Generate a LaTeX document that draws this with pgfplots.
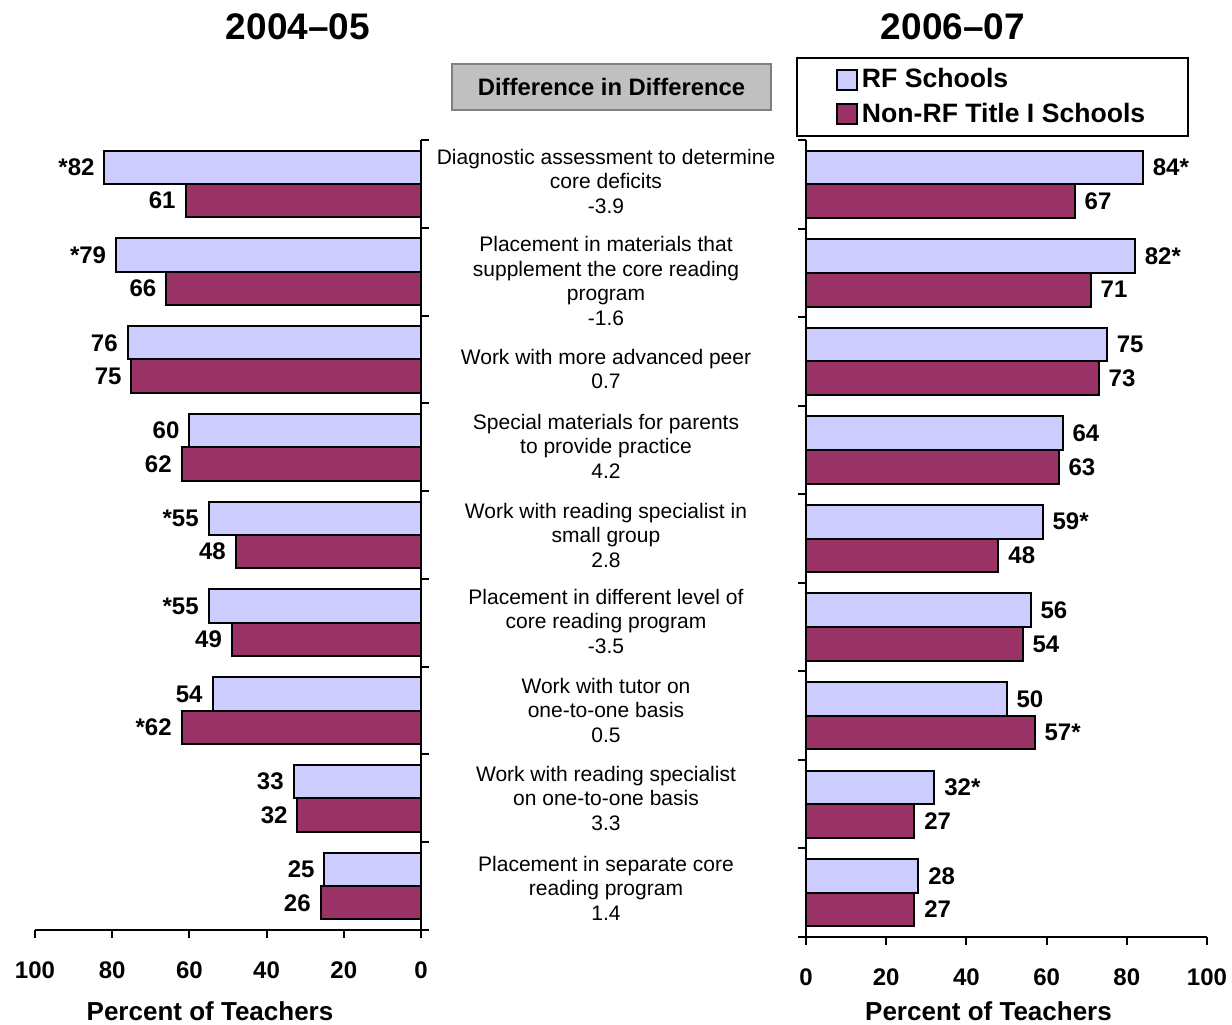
\documentclass[border=0pt]{standalone}
\usepackage{pgfplots}
\pgfplotsset{compat=1.18}
\usepackage{pgfplotstable}
\usepackage{fontspec}
\setmainfont{Liberation Sans}

\definecolor{rfblue}{HTML}{CCCCFF}
\definecolor{nrfred}{HTML}{993366}
\definecolor{boxgray}{HTML}{C0C0C0}
\definecolor{boxedge}{HTML}{808080}

% Percent of teachers using each intervention, 2004-05
\pgfplotstableread{
idx rf rflab nrf nrflab
1 82 *82 61 61
2 79 *79 66 66
3 76 76 75 75
4 60 60 62 62
5 55 *55 48 48
6 55 *55 49 49
7 54 54 62 *62
8 33 33 32 32
9 25 25 26 26
}\earlydata

% Percent of teachers using each intervention, 2006-07
\pgfplotstableread{
idx rf rflab nrf nrflab
1 84 84* 67 67
2 82 82* 71 71
3 75 75 73 73
4 64 64 63 63
5 59 59* 48 48
6 56 56 54 54
7 50 50 57 57*
8 32 32* 27 27
9 28 28 27 27
}\latedata

\pgfplotsset{
  panel/.style={
    scale only axis, anchor=south west,
    xmin=0, xmax=100, ymin=0.5, ymax=9.5, y dir=reverse,
    enlargelimits=false,
    xtick={0,20,...,100},
    ytick={0.5,1.5,...,9.5}, yticklabels={},
    tick align=outside, major tick length=4pt,
    tick style={black, line width=1pt},
    axis line style={black, line width=1pt},
    axis x line*=bottom,
    /pgf/number format/assume math mode=true,
    xticklabel style={font=\fontsize{12}{14}\selectfont\bfseries},
    xticklabel shift=8.5pt,
    xlabel={Percent of Teachers},
    xbar, bar width=0.38,
    point meta=explicit symbolic,
    nodes near coords,
    nodes near coords style={font=\fontsize{12}{14}\selectfont\bfseries, inner ysep=0pt, inner xsep=4.5pt, text=black},
    clip=false,
  },
  xlabelpos/.style={every axis x label/.style={at={(axis description cs:0.5,0)}, anchor=center,
    inner sep=0pt, font=\fontsize{13}{15}\selectfont\bfseries, yshift=#1, xshift=-9pt}},
  rfbar/.style={fill=rfblue, draw=black, line width=1pt, bar shift=-0.19},
  nrfbar/.style={fill=nrfred, draw=black, line width=1pt, bar shift=0.19},
}

\begin{document}
\begin{tikzpicture}
\useasboundingbox (0,0) rectangle (616pt,512pt);

% 2004-05 panel, bars growing to the left
\begin{axis}[panel, xlabelpos=-40.5pt,
  at={(17.5pt,47pt)}, width=193pt, height=395pt,
  x dir=reverse, axis y line*=right]
\addplot[rfbar, every node near coord/.append style={anchor=east}]
  table[x=rf, y=idx, meta=rflab] {\earlydata};
\addplot[nrfbar, every node near coord/.append style={anchor=east}]
  table[x=nrf, y=idx, meta=nrflab] {\earlydata};
\end{axis}

% 2006-07 panel
\begin{axis}[panel, xlabelpos=-37pt,
  at={(403pt,43.5pt)}, width=200.5pt, height=398.5pt,
  axis y line*=left,
  legend cell align=left,
  legend image code/.code={\draw[#1] (0pt,-5pt) rectangle (10pt,5pt);},
  legend style={at={(-0.025,1.104)}, anchor=north west, draw=black, line width=1pt,
    font=\fontsize{13.3}{15}\selectfont\bfseries, inner xsep=19.5pt, inner ysep=3.25pt, row sep=2pt}]
\addplot[rfbar, every node near coord/.append style={anchor=west}]
  table[x=rf, y=idx, meta=rflab] {\latedata};
\addplot[nrfbar, every node near coord/.append style={anchor=west}]
  table[x=nrf, y=idx, meta=nrflab] {\latedata};
\legend{RF Schools, Non-RF Title I Schools}
\end{axis}

% Panel titles
\node[font=\fontsize{18.5}{22}\selectfont\bfseries] at (149pt,498.5pt) {2004--05};
\node[font=\fontsize{18.5}{22}\selectfont\bfseries] at (476.5pt,498.5pt) {2006--07};

% Header of the centre column
\node[draw=boxedge, fill=boxgray, line width=0.8pt, minimum width=159.5pt, minimum height=23pt,
  font=\fontsize{11.9}{14}\selectfont\bfseries] at (305.75pt,468.5pt) {Difference in Difference};

% Intervention names with difference-in-difference estimates
\begin{scope}[every node/.style={align=center, font=\fontsize{10.5}{12.25}\selectfont}]
\node at (303pt,421.5pt) {Diagnostic assessment to determine\\core deficits\\-3.9};
\node at (303pt,371.5pt) {Placement in materials that\\supplement the core reading\\program\\-1.6};
\node at (303pt,327.5pt) {Work with more advanced peer\\0.7};
\node at (303pt,289pt) {Special materials for parents\\to provide practice\\4.2};
\node at (303pt,244.5pt) {Work with reading specialist in\\small group\\2.8};
\node at (303pt,201.5pt) {Placement in different level of\\core reading program\\-3.5};
\node at (303pt,157pt) {Work with tutor on\\one-to-one basis\\0.5};
\node at (303pt,113pt) {Work with reading specialist\\on one-to-one basis\\3.3};
\node at (303pt,68pt) {Placement in separate core\\reading program\\1.4};
\end{scope}
\end{tikzpicture}
\end{document}
